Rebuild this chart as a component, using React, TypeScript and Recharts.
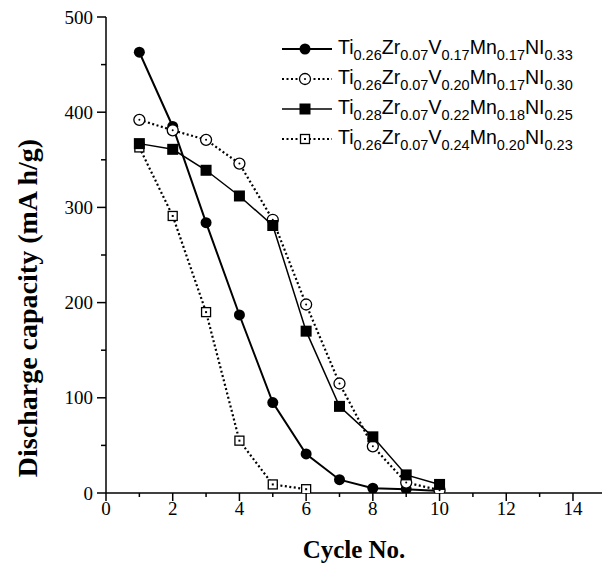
import { LineChart, Line, XAxis, YAxis, Legend } from "recharts";

// cycle number for each measured point
const cycles = [1, 2, 3, 4, 5, 6, 7, 8, 9, 10];

// discharge capacity, mA h/g
const capA = [463, 385, 284, 187, 95, 41, 14, 5, 4, 2];
const capB = [392, 381, 371, 346, 287, 198, 115, 49, 11, 3];
const capC = [367, 361, 339, 312, 281, 170, 91, 59, 19, 9];
const capD = [363, 291, 190, 55, 9, 4];

// formula parts: [element, subscript]
const nameA = [["Ti", "0.26"], ["Zr", "0.07"], ["V", "0.17"], ["Mn", "0.17"], ["NI", "0.33"]];
const nameB = [["Ti", "0.26"], ["Zr", "0.07"], ["V", "0.20"], ["Mn", "0.17"], ["NI", "0.30"]];
const nameC = [["Ti", "0.28"], ["Zr", "0.07"], ["V", "0.22"], ["Mn", "0.18"], ["NI", "0.25"]];
const nameD = [["Ti", "0.26"], ["Zr", "0.07"], ["V", "0.24"], ["Mn", "0.20"], ["NI", "0.23"]];

const xTicks = [0, 1, 2, 3, 4, 5, 6, 7, 8, 9, 10, 11, 12, 13, 14];
const yTicks = [0, 50, 100, 150, 200, 250, 300, 350, 400, 450, 500];

const SERIF = "'Liberation Serif', 'Times New Roman', serif";
const SANS = "'Liberation Sans', Arial, sans-serif";

const toPoints = (vals: number[]) => vals.map((v, i) => ({ x: cycles[i], y: v }));

type Marker = "filledCircle" | "openCircle" | "filledSquare" | "openSquare";

function drawMarker(kind: Marker, cx: number, cy: number, key?: string) {
  if (kind === "filledCircle") return <circle key={key} cx={cx} cy={cy} r={5.5} fill="#000" />;
  if (kind === "filledSquare")
    return <rect key={key} x={cx - 5.5} y={cy - 5.5} width={11} height={11} fill="#000" />;
  if (kind === "openCircle")
    return (
      <g key={key}>
        <circle cx={cx} cy={cy} r={5.5} fill="#fff" stroke="#000" strokeWidth={1.3} />
        <circle cx={cx} cy={cy} r={1} fill="#000" />
      </g>
    );
  return (
    <g key={key}>
      <rect x={cx - 4.5} y={cy - 4.5} width={9} height={9} fill="#fff" stroke="#000" strokeWidth={1.3} />
      <rect x={cx - 1} y={cy - 1} width={2} height={2} fill="#000" />
    </g>
  );
}

const series = [
  { id: "A", data: toPoints(capA), name: nameA, marker: "filledCircle" as Marker, dash: undefined, width: 2 },
  { id: "B", data: toPoints(capB), name: nameB, marker: "openCircle" as Marker, dash: "2 2.5", width: 2.2 },
  { id: "C", data: toPoints(capC), name: nameC, marker: "filledSquare" as Marker, dash: undefined, width: 1.5 },
  { id: "D", data: toPoints(capD), name: nameD, marker: "openSquare" as Marker, dash: "2 2.5", width: 2.2 },
];

// drawing order so the overlaps look like the original
const drawOrder = ["D", "A", "B", "C"];

function BottomTick({ x, y, payload }: any) {
  const major = payload.value % 2 === 0;
  return (
    <g>
      <line x1={x} y1={y} x2={x} y2={y + (major ? 8 : 4)} stroke="#000" strokeWidth={1.5} />
      {major && (
        <text x={x} y={y + 22} textAnchor="middle" fontFamily={SERIF} fontSize={19} fill="#000">
          {payload.value}
        </text>
      )}
    </g>
  );
}

function TopTick({ x, y, payload }: any) {
  const major = payload.value % 2 === 0;
  return <line x1={x} y1={y} x2={x} y2={y + (major ? 8 : 4)} stroke="#000" strokeWidth={1.5} />;
}

function LeftTick({ x, y, payload }: any) {
  const major = payload.value % 100 === 0;
  return (
    <g>
      <line x1={x - (major ? 9 : 5)} y1={y} x2={x} y2={y} stroke="#000" strokeWidth={1.5} />
      {major && (
        <text x={x - 13} y={y} dy="0.35em" textAnchor="end" fontFamily={SERIF} fontSize={19} fill="#000">
          {payload.value}
        </text>
      )}
    </g>
  );
}

function YTitle() {
  return (
    <text
      x={37}
      y={308}
      transform="rotate(-90 37 308)"
      textAnchor="middle"
      fontFamily={SERIF}
      fontWeight="bold"
      fontSize={28}
      fill="#000"
    >
      Discharge capacity (mA h/g)
    </text>
  );
}

function Formula({ parts }: { parts: string[][] }) {
  return (
    <span style={{ fontFamily: SANS, fontSize: 19.5, color: "#000", whiteSpace: "nowrap" }}>
      {parts.map(([el, sub]) => (
        <span key={el}>
          {el}
          <span style={{ fontSize: 14.5, verticalAlign: "-6px" }}>{sub}</span>
        </span>
      ))}
    </span>
  );
}

function LegendBox() {
  return (
    <div>
      {series.map((s) => (
        <div key={s.id} style={{ display: "flex", alignItems: "center", height: 30 }}>
          <svg width={52} height={20} style={{ marginRight: 5 }}>
            <line x1={1} y1={10} x2={51} y2={10} stroke="#000" strokeWidth={s.width} strokeDasharray={s.dash} />
            {drawMarker(s.marker, 24, 10)}
          </svg>
          <Formula parts={s.name} />
        </div>
      ))}
    </div>
  );
}

export default function App() {
  return (
    <div style={{ position: "absolute", left: 0, top: 0, background: "#fff" }}>
      <LineChart width={602} height={564} margin={{ top: 17, right: 0, bottom: 0, left: 0 }}>
        <XAxis
          xAxisId={0}
          type="number"
          dataKey="x"
          domain={[0, 14.87]}
          allowDataOverflow
          ticks={xTicks}
          interval={0}
          height={71}
          tickSize={0}
          tickMargin={0}
          tickLine={false}
          tick={<BottomTick />}
          axisLine={{ stroke: "#000", strokeWidth: 1.5 }}
          label={{
            value: "Cycle No.",
            position: "insideBottom",
            offset: 6,
            style: { fontFamily: SERIF, fontWeight: "bold", fontSize: 25, fill: "#000" },
          }}
        />
        <XAxis
          xAxisId="top"
          orientation="top"
          type="number"
          dataKey="x"
          domain={[0, 14.87]}
          allowDataOverflow
          ticks={xTicks}
          interval={0}
          height={0}
          tickSize={0}
          tickMargin={0}
          tickLine={false}
          tick={<TopTick />}
          axisLine={{ stroke: "#000", strokeWidth: 1.5 }}
        />
        <YAxis
          type="number"
          domain={[0, 500]}
          allowDataOverflow
          ticks={yTicks}
          interval={0}
          width={106}
          tickSize={0}
          tickMargin={0}
          tickLine={false}
          tick={<LeftTick />}
          axisLine={{ stroke: "#000", strokeWidth: 1.5 }}
          label={{ content: YTitle }}
        />
        <Legend
          layout="horizontal"
          verticalAlign="middle"
          align="center"
          content={<LegendBox />}
          wrapperStyle={{ left: 281, top: 34, width: 320 }}
        />
        {drawOrder.map((id) => {
          const s = series.find((q) => q.id === id)!;
          return (
            <Line
              key={s.id}
              data={s.data}
              dataKey="y"
              type="linear"
              stroke="#000"
              strokeWidth={s.width}
              strokeDasharray={s.dash}
              dot={(p: any) => drawMarker(s.marker, p.cx, p.cy, `${s.id}-${p.index}`)}
              activeDot={false}
              isAnimationActive={false}
              legendType="none"
            />
          );
        })}
      </LineChart>
    </div>
  );
}
